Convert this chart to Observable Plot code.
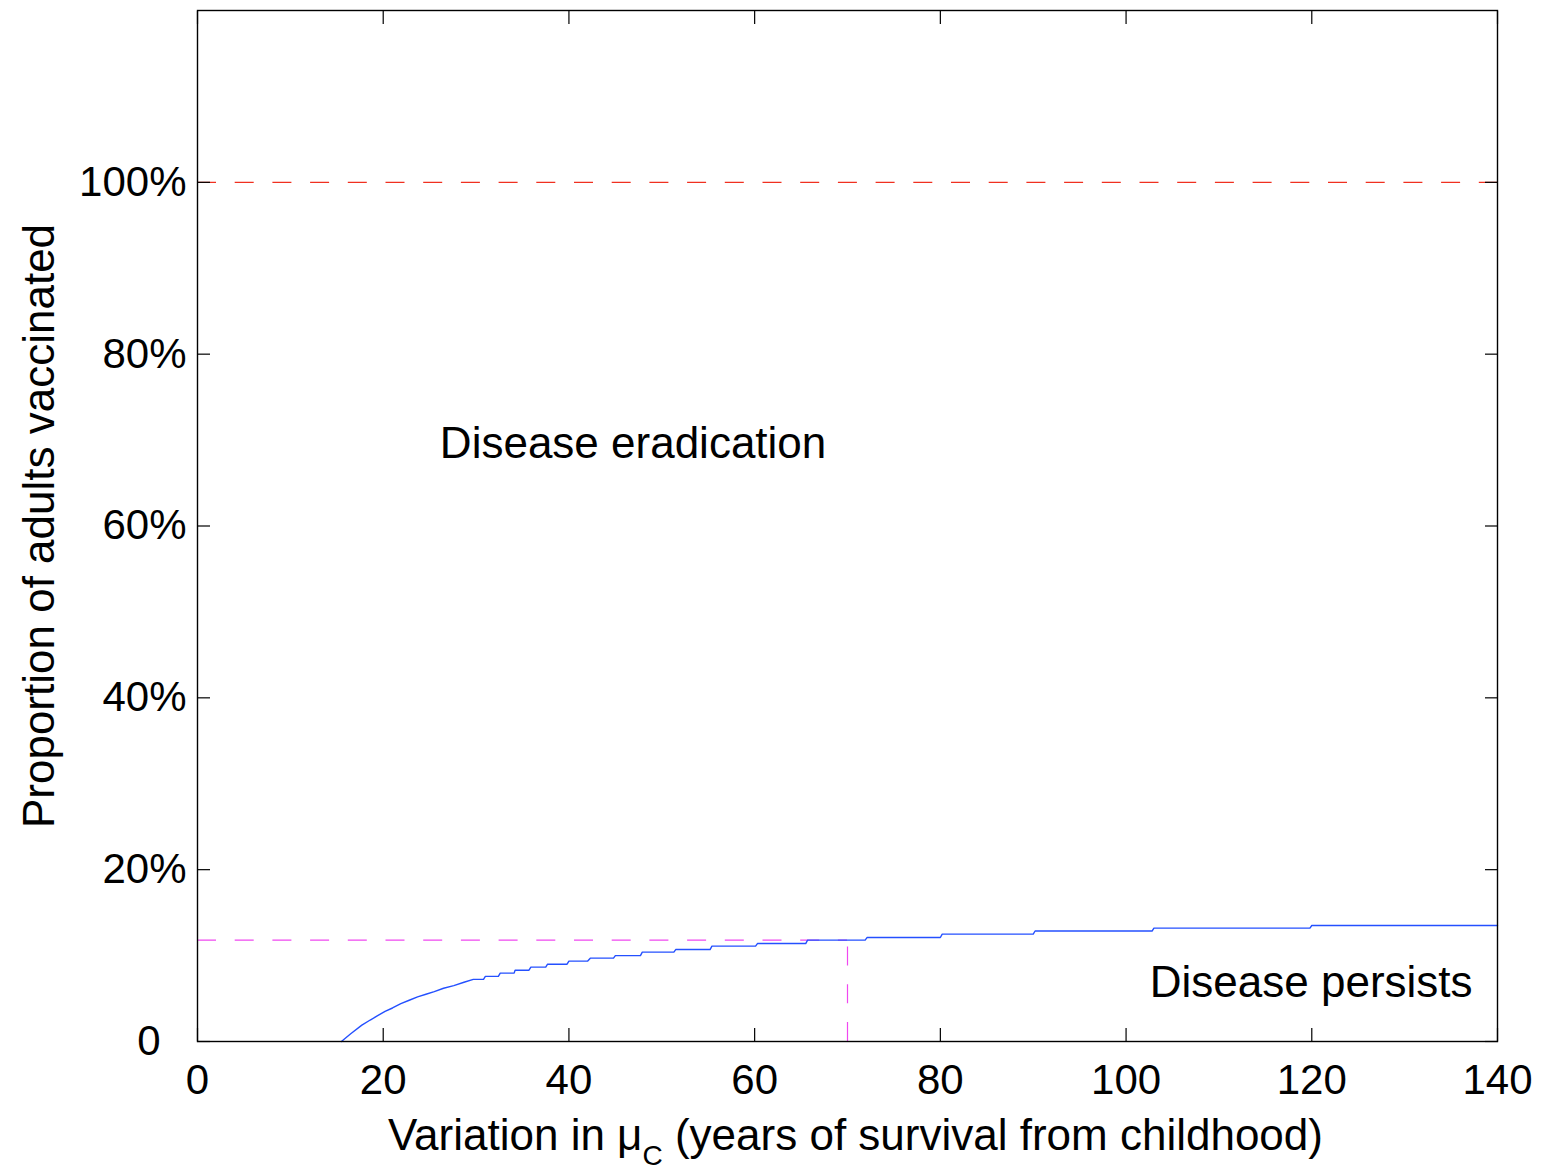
<!DOCTYPE html>
<html><head><meta charset="utf-8">
<script src="https://cdn.jsdelivr.net/npm/d3@7"></script>
<script src="https://cdn.jsdelivr.net/npm/@observablehq/plot@0.6"></script>
<style>body{margin:0;background:#fff} #chart svg{display:block}</style>
</head><body><div id="chart"></div>
<script>
// Blue threshold curve: μC (years) vs proportion of adults vaccinated
const muC = [15.5, 16.5, 17.7, 18.6, 19.4, 20.2, 21.0, 21.9, 22.8, 23.7,
  24.6, 25.5, 26.5, 27.6, 28.7, 29.7, 30.8, 31.0, 32.4, 32.6,
  34.1, 34.2, 35.7, 35.9, 37.5, 37.7, 39.8, 40.0, 42.0, 42.3,
  44.8, 45.0, 47.7, 47.9, 51.3, 51.5, 55.2, 55.4, 60.1, 60.3,
  65.5, 65.7, 71.9, 72.1, 80.0, 80.2, 90.0, 90.2, 102.8, 103.0,
  119.8, 120.0, 140];
const prop = [0, 0.009, 0.019, 0.025, 0.030, 0.035, 0.039, 0.044, 0.048, 0.052,
  0.055, 0.058, 0.062, 0.065, 0.069, 0.0723, 0.0723, 0.0758, 0.0758, 0.0796,
  0.0796, 0.083, 0.083, 0.0866, 0.0866, 0.090, 0.090, 0.0935, 0.0935, 0.097,
  0.097, 0.100, 0.100, 0.104, 0.104, 0.107, 0.107, 0.111, 0.111, 0.114,
  0.114, 0.118, 0.118, 0.121, 0.121, 0.125, 0.125, 0.1286, 0.1286, 0.132,
  0.132, 0.135, 0.135];

const xTicks = [0, 20, 40, 60, 80, 100, 120, 140];
const yTicks = [0, 0.2, 0.4, 0.6, 0.8, 1.0];
const yTickLabels = ["0", "20%", "40%", "60%", "80%", "100%"];

const eradicationLevel = [1.0];
const thresholdMu = [70];
const thresholdProp = [0.118];

const annotationText = ["Disease eradication", "Disease persists"];
const annotationX = [26.1, 102.55];
const annotationY = [0.695, 0.068];

const xLabelMain = "Variation in μ";
const xLabelSub = "C";
const xLabelRest = " (years of survival from childhood)";
const yLabel = "Proportion of adults vaccinated";

const curve = muC.map((x, i) => ({x, y: prop[i]}));
const annotations = annotationText.map((t, i) => ({t, x: annotationX[i], y: annotationY[i]}));
const font = "'Liberation Sans', Arial, Helvetica, sans-serif";
const dash = "19,18.7";

const plot = Plot.plot({
  width: 1542, height: 1171,
  marginLeft: 197, marginRight: 45, marginTop: 10, marginBottom: 130,
  style: {fontFamily: font, background: "white", color: "black"},
  x: {domain: [0, 140], label: null},
  y: {domain: [0, 1.2], label: null},
  marks: [
    Plot.ruleY(eradicationLevel, {x1: 0, x2: 140, stroke: "#f03020", strokeWidth: 1.2, strokeDasharray: dash}),
    Plot.ruleY(thresholdProp, {x1: 0, x2: thresholdMu[0], stroke: "#f048f0", strokeWidth: 1.2, strokeDasharray: dash}),
    Plot.ruleX(thresholdMu, {y1: 0, y2: thresholdProp[0], stroke: "#f048f0", strokeWidth: 1.2, strokeDasharray: dash}),
    Plot.line(curve, {x: "x", y: "y", stroke: "#2450ff", strokeWidth: 1.4}),
    // inward ticks on all four sides
    Plot.axisX(xTicks, {anchor: "bottom", tickSize: -13, tickFormat: () => "", strokeWidth: 1.2}),
    Plot.axisX(xTicks, {anchor: "top", tickSize: -13, tickFormat: () => "", strokeWidth: 1.2}),
    Plot.axisY(yTicks, {anchor: "left", tickSize: -13, tickFormat: () => "", strokeWidth: 1.2}),
    Plot.axisY(yTicks, {anchor: "right", tickSize: -13, tickFormat: () => "", strokeWidth: 1.2}),
    // tick labels
    Plot.axisX(xTicks, {anchor: "bottom", tickSize: 0, tickPadding: 23, fontSize: 42}),
    Plot.axisY(yTicks.slice(1), {anchor: "left", tickSize: 0, tickPadding: 11, fontSize: 42,
      tickFormat: d => yTickLabels[yTicks.indexOf(d)]}),
    Plot.axisY(yTicks.slice(0, 1), {anchor: "left", tickSize: 0, tickPadding: 37, fontSize: 42,
      tickFormat: d => yTickLabels[yTicks.indexOf(d)]}),
    Plot.frame({stroke: "black", strokeWidth: 1.4}),
    Plot.text(annotations, {x: "x", y: "y", text: "t", textAnchor: "start", fontSize: 44}),
    Plot.text([yLabel], {frameAnchor: "left", textAnchor: "middle", lineAnchor: "middle", rotate: -90, dx: -158, fontSize: 44}),
    Plot.text([xLabelMain + xLabelSub + xLabelRest], {frameAnchor: "bottom", textAnchor: "middle", lineAnchor: "middle", dy: 94, dx: 8, fontSize: 44, className: "xlabel"})
  ]
});

// subscript in the x label
const xl = d3.select(plot).select("g.xlabel text");
xl.text(null);
xl.append("tspan").text(xLabelMain);
xl.append("tspan").attr("font-size", 28).attr("dy", 15).text(xLabelSub);
xl.append("tspan").attr("font-size", 44).attr("dy", -15).text(xLabelRest);

document.getElementById("chart").appendChild(plot);
</script>
</body></html>
